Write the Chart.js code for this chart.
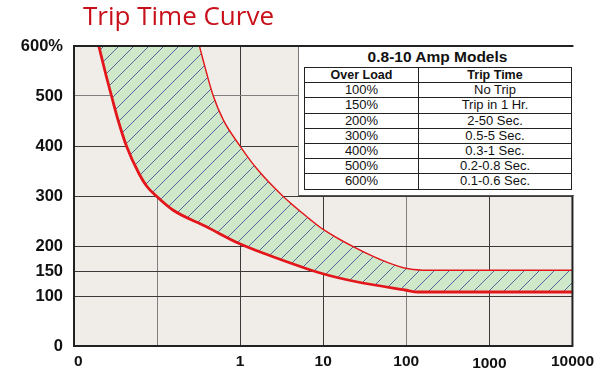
<!DOCTYPE html>
<html>
<head>
<meta charset="utf-8">
<script src="https://cdn.jsdelivr.net/npm/chart.js@4"></script>
<style>
  body { margin: 0; background: #fff; }
  #wrap { position: relative; width: 600px; height: 390px; }
  #title {
    position: absolute; left: 83px; top: 2px;
    font: 26px/26px "Open Sans", sans-serif; color: #c8101a; white-space: nowrap;
  }
  #tableBox {
    position: absolute; left: 298px; top: 47px; width: 275px; height: 148px;
    background: #fff; border-left: 1px solid #777; border-bottom: 1px solid #555;
  }
  #tableTitle {
    position: absolute; left: 5px; top: 0; width: 267px; height: 20px;
    font: bold 15.5px/20px "Liberation Sans", Arial, sans-serif; color: #111; text-align: center;
  }
  #loadTable {
    position: absolute; left: 5px; top: 20px; width: 267px;
    border-collapse: collapse; table-layout: fixed;
    font: 13px "Liberation Sans", Arial, sans-serif; color: #111;
  }
  #loadTable td, #loadTable th {
    border: 1px solid #222; padding: 0; height: 14.2px; line-height: 14px; text-align: center;
  }
  #loadTable th { font-weight: bold; font-size: 12.5px; }
</style>
</head>
<body>
<div id="wrap">
  <canvas id="chart" width="600" height="390"></canvas>
  <div id="title">Trip Time Curve</div>
  <div id="tableBox">
    <div id="tableTitle">0.8-10 Amp Models</div>
    <table id="loadTable">
      <colgroup><col style="width:114px"><col style="width:153px"></colgroup>
      <thead><tr><th>Over Load</th><th>Trip Time</th></tr></thead>
      <tbody></tbody>
    </table>
  </div>
</div>
<script>
// axis ticks
const xTickValues = [0.01, 0.1, 1, 10, 100, 1000, 10000];
const xTickLabels = ["  0", "", "1", "10", "100", "1000", "10000"];
const yTickValues = [0, 100, 150, 200, 300, 400, 500, 600];

// lower edge of the band (seconds, % load) - first point sits above the plot
const minTripTime = [0.0142, 0.0199, 0.024, 0.0283, 0.0339, 0.0428, 0.0605, 0.0755, 0.0978, 0.155, 0.388, 0.973, 2.44, 9.67, 24.3, 96.5, 139, 10000];
const minTripLoad = [700, 600, 545, 500, 452, 400, 345, 319, 300, 272, 239, 205, 179, 145, 129, 112, 108, 108];

// upper edge of the band
const maxTripTime = [0.0142, 0.218, 0.317, 0.388, 0.466, 0.614, 0.973, 1.54, 3.21, 6.12, 9.67, 24.3, 60.9, 106, 183, 10000];
const maxTripLoad = [700, 700, 600, 545, 500, 452, 400, 355, 299, 259, 233, 195, 165, 153, 150, 150];

// table rows
const overLoad = ["100%", "150%", "200%", "300%", "400%", "500%", "600%"];
const tripTime = ["No Trip", "Trip in 1 Hr.", "2-50 Sec.", "0.5-5 Sec.", "0.3-1 Sec.", "0.2-0.8 Sec.", "0.1-0.6 Sec."];

const tbody = document.querySelector("#loadTable tbody");
overLoad.forEach((load, i) => {
    const tr = document.createElement("tr");
    tr.innerHTML = "<td>" + load + "</td><td>" + tripTime[i] + "</td>";
    tbody.appendChild(tr);
});

const canvas = document.getElementById("chart");

// green fill with thin blue diagonal hatching
function makeHatch() {
    const n = 15;
    const c = document.createElement("canvas");
    c.width = n; c.height = n;
    const g = c.getContext("2d");
    g.fillStyle = "#cfe8c9";
    g.fillRect(0, 0, n, n);
    g.strokeStyle = "rgba(25,35,140,0.85)";
    g.lineWidth = 0.8;
    g.beginPath();
    g.moveTo(-1, 1); g.lineTo(1, -1);
    g.moveTo(0, n); g.lineTo(n, 0);
    g.moveTo(n - 1, n + 1); g.lineTo(n + 1, n - 1);
    g.stroke();
    return canvas.getContext("2d").createPattern(c, "repeat");
}

// plot background and the dark frame round it
const plotFrame = {
    id: "plotFrame",
    beforeDraw(chart) {
        const { ctx, chartArea: a } = chart;
        ctx.save();
        ctx.fillStyle = "#f0ece8";
        ctx.fillRect(a.left, a.top, a.width, a.height);
        ctx.restore();
    },
    afterDraw(chart) {
        const { ctx, chartArea: a } = chart;
        ctx.save();
        ctx.strokeStyle = "#222";
        ctx.lineWidth = 2;
        ctx.strokeRect(a.left, a.top, a.width, a.height);
        ctx.restore();
    }
};

const red = "#e3161b";
const tickFont = { family: "'Liberation Sans', Arial, sans-serif", weight: "bold" };

new Chart(canvas, {
    type: "line",
    data: {
        datasets: [{
            data: minTripTime.map((t, i) => ({ x: t, y: minTripLoad[i] })),
            borderColor: red,
            borderWidth: 2.8,
            pointRadius: 0,
            cubicInterpolationMode: "monotone",
            fill: "+1",
            backgroundColor: makeHatch(),
        }, {
            data: maxTripTime.map((t, i) => ({ x: t, y: maxTripLoad[i] })),
            borderColor: red,
            borderWidth: 2.8,
            pointRadius: 0,
            cubicInterpolationMode: "monotone",
            fill: false,
        }]
    },
    options: {
        responsive: false,
        animation: false,
        devicePixelRatio: 1,
        layout: { padding: { left: 0, right: 25, top: 46, bottom: 0 } },
        scales: {
            x: {
                type: "logarithmic",
                min: 0.01,
                max: 10000,
                afterBuildTicks: s => { s.ticks = xTickValues.map(v => ({ value: v })); },
                afterFit: s => { s.height = 44; },
                ticks: {
                    autoSkip: false,
                    maxRotation: 0,
                    padding: 6,
                    color: "#111",
                    // the 1000 label sits a little lower in the original
                    font: ctx => ctx.tick && ctx.tick.value === 1000
                        ? { ...tickFont, size: 15.5, lineHeight: "8px" }
                        : { ...tickFont, size: 15.5 },
                    callback: (v, i) => xTickValues[i] === 1000 ? ["", xTickLabels[i]] : xTickLabels[i],
                },
                grid: {
                    drawTicks: false,
                    color: ctx => (ctx.tick && (ctx.tick.value === 0.1 || ctx.tick.value === 100)) ? "#808080" : "#3a3a3a",
                },
                border: { display: false },
            },
            y: {
                min: 0,
                max: 600,
                afterBuildTicks: s => { s.ticks = yTickValues.map(v => ({ value: v })); },
                afterFit: s => { s.width = 74; },
                ticks: {
                    padding: 11,
                    color: "#111",
                    font: { ...tickFont, size: 16.5 },
                    callback: v => v === 600 ? "600%" : String(v),
                },
                grid: {
                    drawTicks: false,
                    color: ctx => (ctx.tick && ctx.tick.value === 500) ? "#808080" : "#3a3a3a",
                },
                border: { display: false },
            }
        },
        plugins: {
            legend: { display: false },
            tooltip: { enabled: false },
        }
    },
    plugins: [plotFrame]
});
</script>
</body>
</html>
